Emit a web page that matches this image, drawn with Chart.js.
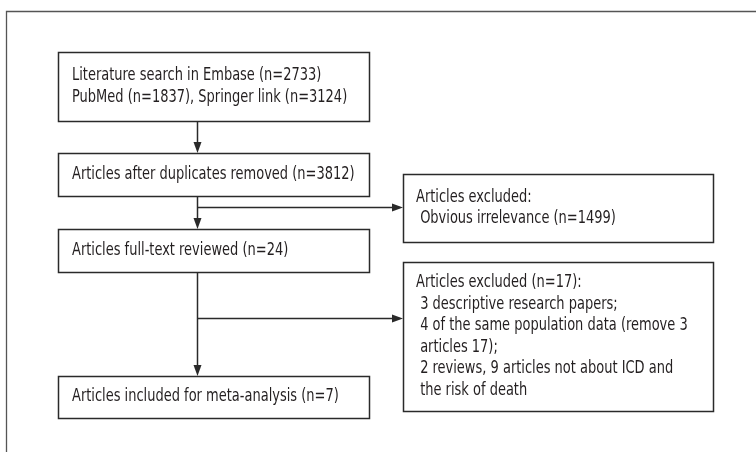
<!DOCTYPE html>
<html><head><meta charset="utf-8">
<script src="https://cdn.jsdelivr.net/npm/chart.js@4/dist/chart.umd.min.js"></script>
<style>html,body{margin:0;padding:0;background:#fff}canvas{display:block}</style>
</head><body>
<canvas id="c" width="756" height="452"></canvas>
<script>
// ---- data ----
const searchSources = ["Embase", "PubMed", "Springer link"];
const searchCounts = [2733, 1837, 3124];
const stageLabels = ["Articles after duplicates removed", "Articles full-text reviewed", "Articles included for meta-analysis"];
const stageCounts = [3812, 24, 7];
const excludedCounts = [1499, 17];
const exclusionReasons = [
  "3 descriptive research papers;",
  "4 of the same population data (remove 3",
  "articles 17);",
  "2 reviews, 9 articles not about ICD and",
  "the risk of death"
];

// ---- node texts built from the data ----
const nodeTexts = {
  search: ["Literature search in " + searchSources[0] + " (n=" + searchCounts[0] + ")",
           searchSources[1] + " (n=" + searchCounts[1] + "), " + searchSources[2] + " (n=" + searchCounts[2] + ")"],
  dedup: [stageLabels[0] + " (n=" + stageCounts[0] + ")"],
  full: [stageLabels[1] + " (n=" + stageCounts[1] + ")"],
  incl: [stageLabels[2] + " (n=" + stageCounts[2] + ")"],
  ex1: ["Articles excluded:", " Obvious irrelevance (n=" + excludedCounts[0] + ")"],
  ex2: ["Articles excluded (n=" + excludedCounts[1] + "):"].concat(exclusionReasons.map(r => " " + r))
};

// ---- layout (in axis units) ----
const layout = {
  search: {x0: 58, x1: 369, y0: 52, y1: 121},
  dedup:  {x0: 58, x1: 369, y0: 153, y1: 196},
  full:   {x0: 58, x1: 369, y0: 229, y1: 272},
  incl:   {x0: 58, x1: 369, y0: 376, y1: 418},
  ex1:    {x0: 403, x1: 713, y0: 174, y1: 242},
  ex2:    {x0: 403, x1: 713, y0: 262, y1: 411}
};
const spineX = 197;
const branchY = [207, 318];
const lineGap = 21.5;
const textScaleX = 0.85;

const flowPlugin = {
  id: 'flow',
  afterDraw(chart) {
    const ctx = chart.ctx, xs = chart.scales.x, ys = chart.scales.y;
    const px = v => xs.getPixelForValue(v), py = v => ys.getPixelForValue(v);
    ctx.save();
    // outer frame
    ctx.strokeStyle = '#555';
    ctx.lineWidth = 1.3;
    ctx.beginPath();
    ctx.moveTo(px(6.5), py(452)); ctx.lineTo(px(6.5), py(11.5)); ctx.lineTo(px(756), py(11.5));
    ctx.stroke();

    ctx.strokeStyle = '#2a2a2a';
    ctx.fillStyle = '#2a2a2a';
    ctx.lineWidth = 1.5;
    // boxes
    Object.keys(layout).forEach(k => {
      const b = layout[k];
      ctx.strokeRect(px(b.x0) + 0.5, py(b.y0) + 0.5, px(b.x1) - px(b.x0), py(b.y1) - py(b.y0));
    });
    function line(x0, y0, x1, y1) {
      ctx.beginPath(); ctx.moveTo(px(x0) + 0.5, py(y0) + 0.5); ctx.lineTo(px(x1) + 0.5, py(y1) + 0.5); ctx.stroke();
    }
    function headDown(x, y) {
      const X = px(x) + 0.5, Y = py(y);
      ctx.beginPath(); ctx.moveTo(X, Y); ctx.lineTo(X - 4, Y - 11); ctx.lineTo(X + 4, Y - 11); ctx.closePath(); ctx.fill();
    }
    function headRight(x, y) {
      const X = px(x), Y = py(y) + 0.5;
      ctx.beginPath(); ctx.moveTo(X, Y); ctx.lineTo(X - 11, Y - 4); ctx.lineTo(X - 11, Y + 4); ctx.closePath(); ctx.fill();
    }
    // vertical connectors
    line(spineX, layout.search.y1, spineX, layout.dedup.y0 - 4); headDown(spineX, layout.dedup.y0);
    line(spineX, layout.dedup.y1, spineX, layout.full.y0 - 4); headDown(spineX, layout.full.y0);
    line(spineX, layout.full.y1, spineX, layout.incl.y0 - 4); headDown(spineX, layout.incl.y0);
    // branches
    line(spineX, branchY[0], layout.ex1.x0 - 4, branchY[0]); headRight(layout.ex1.x0, branchY[0]);
    line(spineX, branchY[1], layout.ex2.x0 - 4, branchY[1]); headRight(layout.ex2.x0, branchY[1]);

    // texts (condensed by horizontal scaling)
    ctx.fillStyle = '#231f20';
    ctx.font = '17px "Liberation Sans Narrow", "DejaVu Sans Condensed", sans-serif';
    ctx.textBaseline = 'middle';
    ctx.textAlign = 'left';
    Object.keys(layout).forEach(k => {
      const b = layout[k], lines = nodeTexts[k];
      const left = k.startsWith('ex') ? 13 : 14;
      let start;
      if (k === 'ex2') start = b.y0 + 21;
      else start = (b.y0 + b.y1) / 2 - (lines.length - 1) * lineGap / 2;
      lines.forEach((t, i) => {
        ctx.save();
        ctx.translate(px(b.x0 + left), py(start + i * lineGap));
        ctx.scale(textScaleX, 1);
        ctx.fillText(t, 0, 0);
        ctx.restore();
      });
    });
    ctx.restore();
  }
};

new Chart(document.getElementById('c'), {
  type: 'scatter',
  data: { datasets: [{ data: [] }] },
  options: {
    responsive: false,
    animation: false,
    layout: { padding: 0 },
    plugins: { legend: { display: false }, tooltip: { enabled: false } },
    scales: {
      x: { type: 'linear', min: 0, max: 756, display: false },
      y: { type: 'linear', min: 0, max: 452, reverse: true, display: false }
    }
  },
  plugins: [flowPlugin]
});
</script>
</body></html>
